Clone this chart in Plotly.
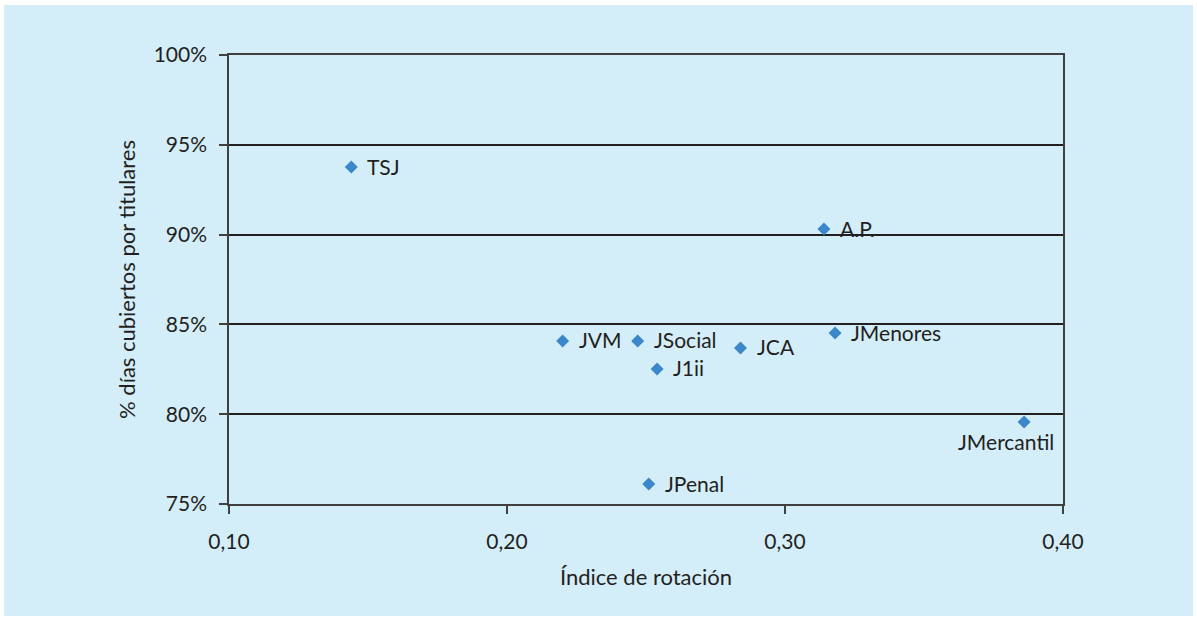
import plotly.graph_objects as go

# data
labels = ['TSJ', 'A.P.', 'JVM', 'JSocial', 'J1ii', 'JCA', 'JMenores', 'JMercantil', 'JPenal']
rotacion = [0.144, 0.314, 0.220, 0.247, 0.254, 0.284, 0.318, 0.386, 0.251]
dias_cubiertos = [93.76, 90.31, 84.08, 84.08, 82.52, 83.69, 84.52, 79.57, 76.11]

x_ticks = [0.10, 0.20, 0.30, 0.40]
y_ticks = [75, 80, 85, 90, 95, 100]
y_tick_text = ['75%', '80%', '85%', '90%', '95%', '100%']

W, H = 1197, 621
L, R, T, B = 229, 134, 55, 117
pw, ph = W - L - R, H - T - B

outer_bg = '#d4eef9'
plot_bg = '#b3d8e9'
marker_col = '#3a87c9'
font_family = 'Lato, "Open Sans", sans-serif'

fig = go.Figure()

fig.add_trace(go.Scatter(
    x=rotacion,
    y=dias_cubiertos,
    mode='markers',
    marker=dict(symbol='diamond', size=10, color=marker_col),
    hoverinfo='text',
    hovertext=labels,
    showlegend=False,
    cliponaxis=False
))

# point labels
annotations = []
for name, xv, yv in zip(labels, rotacion, dias_cubiertos):
    if name == 'JMercantil':
        a = dict(xanchor='center', yanchor='top', xshift=-18, yshift=-5)
    else:
        a = dict(xanchor='left', yanchor='middle', xshift=14, yshift=1)
    annotations.append(dict(
        x=xv, y=yv, text=name, showarrow=False,
        font=dict(size=21, color='#231f20', family=font_family), **a
    ))

# light blue panel inside a thin white frame
fig.add_shape(
    type='rect', xref='paper', yref='paper', layer='below',
    x0=(4 - L) / pw, x1=(W - 4 - L) / pw,
    y0=-(H - 5 - T - ph) / ph, y1=1 + (T - 5) / ph,
    fillcolor=outer_bg, line=dict(width=0)
)

fig.update_layout(
    width=W, height=H,
    margin=dict(l=L, r=R, t=T, b=B),
    paper_bgcolor='white',
    plot_bgcolor=plot_bg,
    separators=',.',
    font=dict(family=font_family, size=21, color='#231f20'),
    annotations=annotations,
    xaxis=dict(
        range=[0.10, 0.40], tickvals=x_ticks, tickformat='.2f',
        showgrid=False, zeroline=False,
        showline=True, linecolor='#404040', linewidth=1.5, mirror=True,
        ticks='outside', ticklen=8, tickcolor='#404040', tickwidth=1.5,
        ticklabelstandoff=10,
        tickfont=dict(size=21),
        title=dict(text='Índice de rotación', font=dict(size=22), standoff=18)
    ),
    yaxis=dict(
        range=[75, 100], tickvals=y_ticks, ticktext=y_tick_text,
        showgrid=True, gridcolor='#231f20', gridwidth=1.5,
        zeroline=False,
        showline=True, linecolor='#404040', linewidth=1.5, mirror=True,
        ticks='outside', ticklen=8, tickcolor='#404040', tickwidth=1.5,
        ticklabelstandoff=8,
        tickfont=dict(size=21),
        title=dict(text='% días cubiertos por titulares', font=dict(size=22), standoff=12)
    )
)

fig.write_html("out.html", config={'displayModeBar': False},
               post_script="document.body.style.margin='0';")
